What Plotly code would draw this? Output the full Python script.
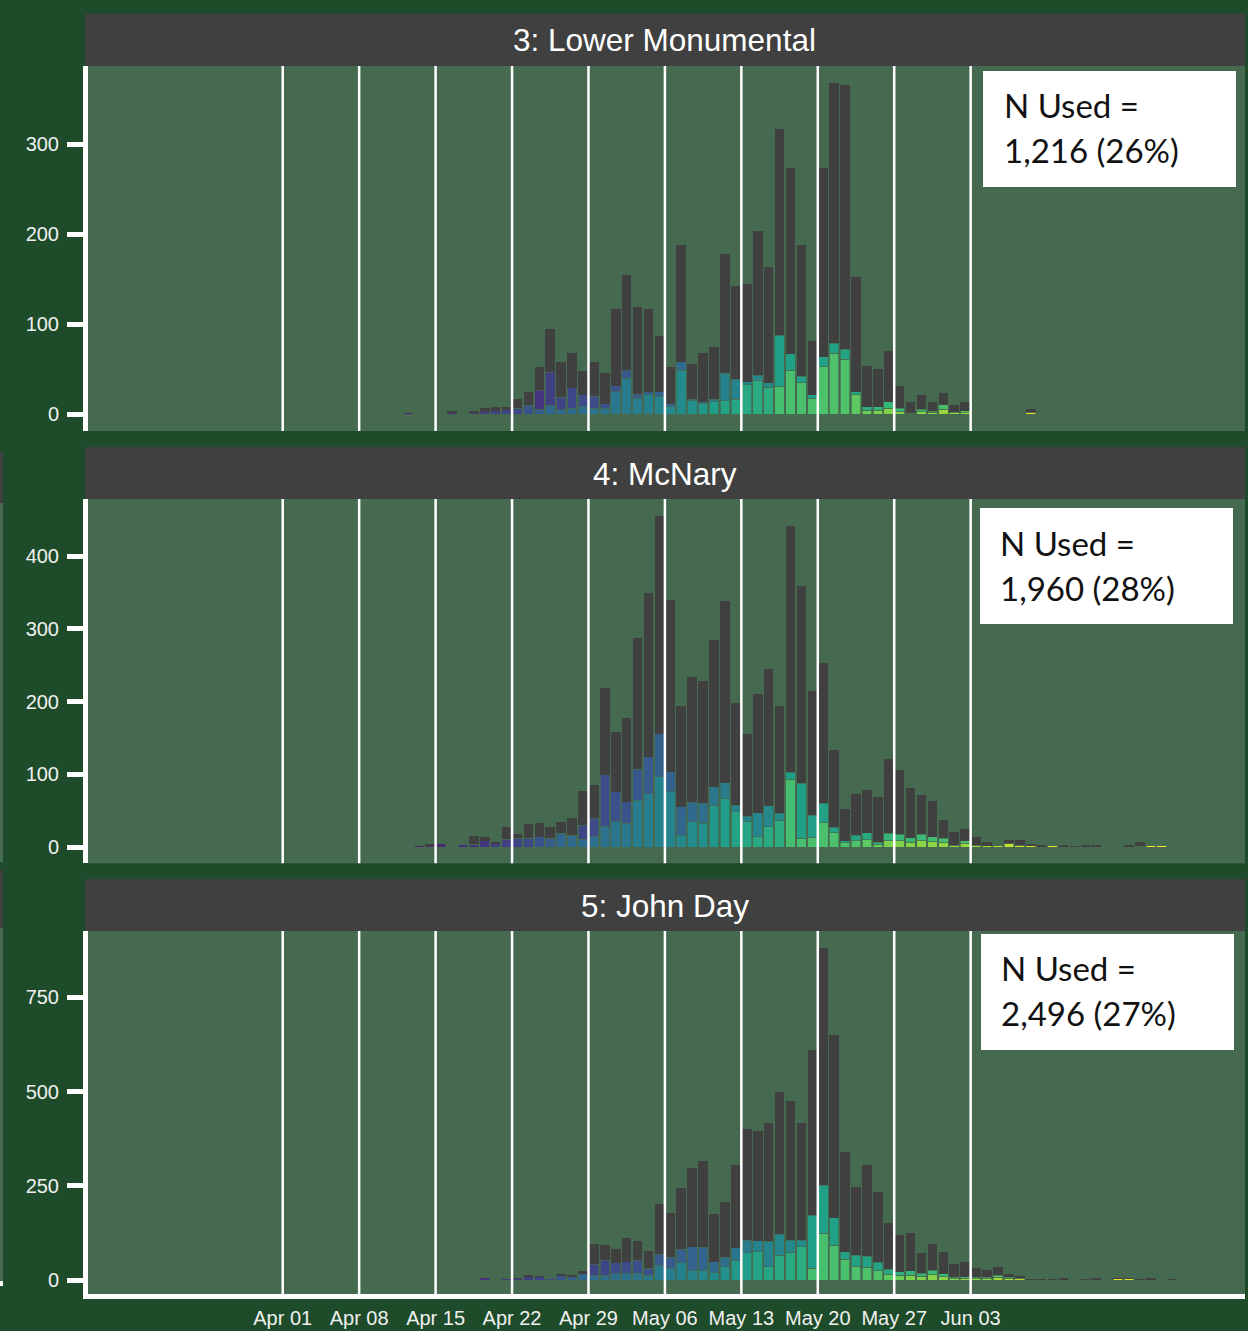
import numpy as np
import pandas as pd
import plotly.graph_objects as go
from plotly.colors import sample_colorscale

W, H = 1248, 1331

# ---------------- data (daily counts, starting Mon 2021-03-29, one row per week) ----------------
start_date = "2021-03-29"

week_ticks = ["2021-04-01", "2021-04-08", "2021-04-15", "2021-04-22", "2021-04-29",
              "2021-05-06", "2021-05-13", "2021-05-20", "2021-05-27", "2021-06-03"]
week_labels = ["Apr 01", "Apr 08", "Apr 15", "Apr 22", "Apr 29",
               "May 06", "May 13", "May 20", "May 27", "Jun 03"]

panel_titles = ["3: Lower Monumental", "4: McNary", "5: John Day"]
n_used_text = ["1,216 (26%)", "1,960 (28%)", "2,496 (27%)"]

# Panel 3: Lower Monumental
lm_total = [0.5, 1, 0, 0, 0.3, 0, 0,
            0, 0, 0.3, 0, 0, 0.5, 1,
            1.5, 0.5, 1, 0.5, 3, 0.5, 3,
            7, 8, 8, 17, 25, 52.5, 95,
            58.5, 68, 48, 58, 46, 117, 155,
            119, 117, 87, 52, 188, 56, 68,
            75, 178, 142, 145, 204, 164, 317,
            273, 188, 81, 273, 368, 366, 152,
            54, 50, 70, 32, 14, 22, 14,
            24, 10, 14, 1, 0.5, 0, 0,
            0, 6, 0.5, 0, 0, 0, 0,
            0, 0, 0, 0, 0, 0, 0,
            0, 0, 0, 0, 0, 0, 0]
lm_new = [0.5, 1, 0, 0, 0.3, 0, 0,
          0, 0, 0.3, 0, 0, 0.5, 1,
          1.5, 0.5, 1, 0.5, 2, 0.5, 2.5,
          3, 4, 5, 7, 10, 5, 10,
          5, 6.5, 8.5, 6.5, 6.5, 25, 40,
          18, 22, 19.5, 8.5, 49, 15, 12,
          14, 15, 16.5, 33, 38, 30, 30.5,
          49, 35, 18, 53, 68, 61, 21.5,
          4.5, 4.5, 7, 3.5, 1, 3, 2.2,
          5.5, 1.5, 2, 1, 0.5, 0, 0,
          0, 2.2, 0.5, 0, 0, 0, 0,
          0, 0, 0, 0, 0, 0, 0,
          0, 0, 0, 0, 0, 0, 0]
lm_old = [0, 0, 0, 0, 0, 0, 0,
          0, 0, 0, 0, 0, 0, 0,
          0, 0, 0, 0, 0, 0, 0,
          0, 0, 0, 0, 0, 22, 36.5,
          14, 23, 13, 13.5, 5.5, 6.5, 9,
          4.5, 3, 5.5, 3, 9.5, 1.5, 2,
          2.5, 30.5, 22.5, 3, 5.5, 5, 57.5,
          18.5, 7.5, 4, 11, 11, 11, 3.5,
          4, 4, 7, 3, 1, 2.5, 1.5,
          5, 1.5, 2, 0, 0, 0, 0,
          0, 0, 0, 0, 0, 0, 0,
          0, 0, 0, 0, 0, 0, 0,
          0, 0, 0, 0, 0, 0, 0]

# Panel 4: McNary
mc_total = [0, 0, 0, 0, 0.3, 0, 0,
            0, 0, 0, 0.3, 0, 0, 0,
            0, 1.4, 3, 5, 0, 3, 15,
            14, 7, 28, 18, 31.5, 33.5, 28,
            35, 39.5, 77, 85, 218, 157.5, 177,
            287, 349, 455, 339.5, 194, 234, 228,
            284.5, 338, 197.5, 155, 210, 245, 194,
            441, 359, 214.5, 252.5, 133, 52, 73,
            78.5, 69, 121, 106, 80.5, 71.5, 63,
            37, 20, 24.5, 13.3, 7.3, 1.4, 9.6,
            9.6, 4, 1.4, 1.8, 1.4, 0.9, 1.4,
            1.4, 0, 0, 2.7, 7.3, 1.4, 1.8,
            0, 0.5, 0, 0, 0, 0, 0]
mc_new = [0, 0, 0, 0, 0.3, 0, 0,
          0, 0, 0, 0.3, 0, 0, 0,
          0, 1.4, 2, 5, 0, 3, 3.7,
          8.7, 5, 10.5, 12, 12, 14, 12,
          18.8, 16.5, 10.5, 14, 28, 35.7, 33,
          64.6, 73, 96.7, 76, 16.5, 34.8, 32.5,
          57.7, 67, 48.6, 34.8, 14, 28, 37,
          93, 12, 13.3, 33.4, 19.7, 6, 8.5,
          9.7, 3.4, 8.8, 8.4, 6.8, 8.4, 7.2,
          6, 1.7, 4.7, 1.7, 1.4, 1.4, 5,
          2.3, 1.4, 0.5, 1.8, 0.5, 0.5, 0.5,
          0.5, 0, 0, 1, 1, 1.4, 1.8,
          0, 0.5, 0, 0, 0, 0, 0]
mc_old = [0, 0, 0, 0, 0, 0, 0,
          0, 0, 0, 0, 0, 0, 0,
          0, 0, 0, 0, 0, 0, 0,
          0, 0, 0, 0, 0, 0, 0,
          0, 0, 19.5, 25.4, 71, 40.3, 29,
          42.4, 51, 59.3, 27.5, 38.9, 26.6, 27.5,
          25.3, 21.4, 9.1, 7.8, 33.2, 28.4, 9.3,
          9.6, 75.5, 30.7, 26.6, 7.3, 2.7, 8,
          10, 3, 10, 9, 6, 9, 7,
          6, 1, 4, 1, 0, 0, 0,
          0, 0, 0, 0, 0, 0, 0,
          0, 0, 0, 0, 0, 0, 0,
          0, 0, 0, 0, 0, 0, 0]

# Panel 5: John Day
jd_total = [0, 0, 0, 0, 0, 0, 0,
            0, 0, 0, 0, 0, 0, 0,
            0, 0, 0, 0, 2, 0, 2.7,
            7, 2, 4.4, 5.3, 12.4, 10.6, 5.3,
            14, 13.3, 24, 95.5, 93, 82, 111.5,
            103.5, 77, 201.5, 178.5, 243, 298, 315.5,
            174, 208, 305, 400.5, 396, 417.5, 500,
            475, 417.5, 611, 881, 650, 339, 246,
            305, 232.5, 150.5, 119.5, 125.5, 71, 94.5,
            73.5, 42.5, 48.5, 31, 26.5, 33.5, 16,
            11.5, 1.8, 2.7, 2.7, 4.4, 0, 1.8,
            3.5, 0, 5.3, 5.3, 2.7, 5.3, 2.7,
            2.7, 0, 0, 0, 0, 2.7, 0]
jd_new = [0, 0, 0, 0, 0, 0, 0,
          0, 0, 0, 0, 0, 0, 0,
          0, 0, 0, 0, 2, 0, 2.7,
          7, 2, 4.4, 4, 8.8, 8.8, 5.3,
          12.4, 8.8, 16, 13.3, 13.3, 16, 16,
          17.7, 13.3, 39.8, 31, 46, 26.5, 24.8,
          19.5, 35.4, 53, 72.5, 75, 35.4, 66.3,
          73.4, 88.4, 31, 123.8, 92.9, 54.8, 36.3,
          33.7, 24.9, 15.3, 12, 12.8, 9.7, 14.5,
          9, 4, 4.8, 4, 4, 7.3, 4,
          3.3, 1, 1, 1, 1.5, 0, 0.8,
          1, 0, 3.5, 3, 1.5, 2, 2.7,
          1.5, 0, 0, 0, 0, 2.7, 0]
jd_old = [0, 0, 0, 0, 0, 0, 0,
          0, 0, 0, 0, 0, 0, 0,
          0, 0, 0, 0, 0, 0, 0,
          0, 0, 0, 0, 0, 0, 0,
          0, 0, 0, 29.2, 39.7, 30, 32.6,
          35.3, 17.7, 29.2, 29, 36, 61.9, 61.9,
          29.1, 24.6, 32.8, 33.5, 29.4, 68.1, 55.7,
          32.6, 17.6, 141.5, 128.2, 72.5, 20.4, 30,
          30, 22, 13, 10, 12, 8, 12,
          7, 3, 4, 3, 3, 6, 3,
          2, 0, 0, 0, 0, 0, 0,
          0, 0, 0, 0, 0, 0, 0,
          0, 0, 0, 0, 0, 0, 0]

y_ranges = [[-18.5, 386.6], [-22.4, 478.4], [-37.1, 926]]
y_ticks = [[0, 100, 200, 300], [0, 100, 200, 300, 400], [0, 250, 500, 750]]

# ---------------- styling ----------------
PAPER = "#1E4B2A"
PANEL = "#466A50"
STRIP = "#404040"
GREY = "#404040"
AXFONT = "Liberation Sans, Arial, sans-serif"

# colour position (viridis) along the season, by day index from start_date
col_anchor_idx = [0, 17, 24, 27, 33, 39, 43, 47, 48, 54, 57, 64, 67, 71, 90]
col_anchor_t = [0.02, 0.12, 0.22, 0.33, 0.40, 0.48, 0.58, 0.62, 0.70, 0.72, 0.80, 0.85, 0.90, 0.96, 1.0]
panel_colour_lag = [0, 1, 3]   # downstream sites see each cohort a little later

# pixel layout: (strip top, plot top, plot bottom)
panel_px = [(13.5, 66, 431), (447, 499, 863.3), (879, 931, 1294)]
X_LEFT, X_RIGHT = 88, 1245
x_range = ["2021-03-14 04:00", "2021-06-28 03:00"]

ndays = len(lm_total)
days = pd.date_range(start_date, periods=ndays, freq="D")
bar_x = days + pd.Timedelta(hours=12)
idx = np.arange(ndays)

panels = [(lm_total, lm_new, lm_old), (mc_total, mc_new, mc_old), (jd_total, jd_new, jd_old)]

fig = go.Figure()
bar_w = 0.88 * 86400000
line_sep = dict(color=PANEL, width=0.7)

for i, (tot, new, old) in enumerate(panels, start=1):
    tot = np.array(tot, float)
    new = np.array(new, float)
    old = np.array(old, float)
    rest = np.clip(tot - new - old, 0, None)
    t_new = np.interp(idx - panel_colour_lag[i - 1], col_anchor_idx, col_anchor_t)
    t_old = np.clip(t_new - 0.14, 0.0, 1.0)
    c_new = sample_colorscale("Viridis", list(t_new))
    c_old = sample_colorscale("Viridis", list(t_old))
    xa, ya = f"x{i}", f"y{i}"
    fig.add_trace(go.Bar(x=bar_x, y=new, width=bar_w, marker=dict(color=c_new, line=line_sep),
                         xaxis=xa, yaxis=ya, showlegend=False, hoverinfo="skip"))
    fig.add_trace(go.Bar(x=bar_x, y=old, width=bar_w, marker=dict(color=c_old, line=line_sep),
                         xaxis=xa, yaxis=ya, showlegend=False, hoverinfo="skip"))
    fig.add_trace(go.Bar(x=bar_x, y=rest, width=bar_w, marker=dict(color=GREY, line=dict(width=0)),
                         xaxis=xa, yaxis=ya, showlegend=False, hoverinfo="skip"))

def py(p):
    return 1 - p / H

def px(p):
    return p / W

layout = dict(
    width=W, height=H,
    margin=dict(l=0, r=0, t=0, b=0),
    paper_bgcolor=PAPER, plot_bgcolor=PANEL,
    barmode="stack",
    showlegend=False,
)

shapes = []
annotations = []
for i, (s_top, p_top, p_bot) in enumerate(panel_px, start=1):
    sfx = "" if i == 1 else str(i)
    layout["xaxis" + sfx] = dict(
        domain=[px(X_LEFT), px(X_RIGHT)], range=x_range, type="date",
        anchor="y" + sfx, showgrid=False, zeroline=False,
        tickvals=week_ticks, ticktext=week_labels, ticks="",
        showticklabels=(i == 3),
        tickfont=dict(family=AXFONT, size=20, color="#F0F0F0"),
        showline=(i == 3), linecolor="white", linewidth=5,
        ticklabelstandoff=2,
    )
    layout["yaxis" + sfx] = dict(
        domain=[py(p_bot), py(p_top)], range=y_ranges[i - 1],
        anchor="x" + sfx, showgrid=False, zeroline=False,
        tickvals=y_ticks[i - 1], ticks="outside", ticklen=16, tickwidth=5, tickcolor="white",
        showline=True, linecolor="white", linewidth=5,
        tickfont=dict(family=AXFONT, size=20, color="#F0F0F0"),
        ticklabelstandoff=4,
    )
    # strip
    shapes.append(dict(type="rect", xref="paper", yref="paper",
                       x0=px(85), x1=px(X_RIGHT), y0=py(p_top), y1=py(s_top),
                       fillcolor=STRIP, line=dict(width=0), layer="above"))
    annotations.append(dict(text=panel_titles[i - 1], xref="paper", yref="paper",
                            x=px((X_LEFT + X_RIGHT) / 2 - 2), y=py((s_top + p_top) / 2 + 0.5),
                            xanchor="center", yanchor="middle", showarrow=False,
                            font=dict(family=AXFONT, size=31.5, color="white")))
    # weekly reference lines
    for d in week_ticks:
        shapes.append(dict(type="line", xref="x" + ("" if i == 1 else str(i)),
                           yref=f"y{'' if i == 1 else i} domain",
                           x0=d, x1=d, y0=0, y1=1, line=dict(color="white", width=2.5),
                           layer="above"))

# N used boxes
box_px = [(983, 71, 1236, 187), (980, 508, 1233, 624), (981, 934, 1234, 1050)]
txt_x = [1004, 1000, 1001]
line1_y = [104, 542, 967]
line2_y = [149, 587, 1012]
for k in range(3):
    x0, y0, x1, y1 = box_px[k]
    shapes.append(dict(type="rect", xref="paper", yref="paper",
                       x0=px(x0), x1=px(x1), y0=py(y1), y1=py(y0),
                       fillcolor="white", line=dict(width=0), layer="above"))
    for txt, yy in (("N Used =", line1_y[k]), (n_used_text[k], line2_y[k])):
        annotations.append(dict(text=txt, xref="paper", yref="paper",
                                x=px(txt_x[k] - 2), y=py(yy + 1), xanchor="left", yanchor="middle",
                                showarrow=False,
                                font=dict(family="Lato, Carlito, sans-serif", size=33, color="#111111")))

# thin slivers at the far left (neighbouring panel edges)
for (a, b, c) in [(452, 503, STRIP), (503, 862, PANEL), (870, 928, STRIP), (928, 1282, PANEL), (1281, 1286, "white")]:
    shapes.append(dict(type="rect", xref="paper", yref="paper", x0=0, x1=px(3),
                       y0=py(b), y1=py(a), fillcolor=c, line=dict(width=0), layer="above"))

layout["shapes"] = shapes
layout["annotations"] = annotations
fig.update_layout(**layout)

fig.write_html("out.html",
               config={"displayModeBar": False},
               post_script="document.body.style.margin='0px';document.body.style.overflow='hidden';")
